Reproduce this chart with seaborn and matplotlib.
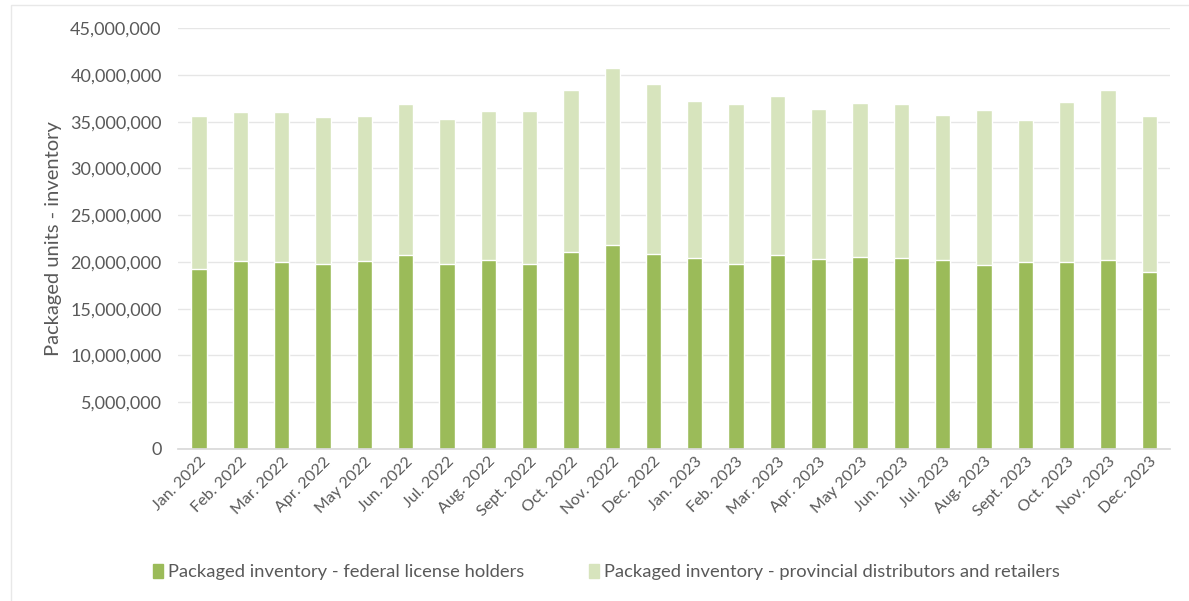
import pandas as pd
import matplotlib.pyplot as plt
import matplotlib.patches as mpatches
import seaborn as sns
from matplotlib.ticker import FuncFormatter

months = ['Jan. 2022', 'Feb. 2022', 'Mar. 2022', 'Apr. 2022', 'May 2022', 'Jun. 2022',
          'Jul. 2022', 'Aug. 2022', 'Sept. 2022', 'Oct. 2022', 'Nov. 2022', 'Dec. 2022',
          'Jan. 2023', 'Feb. 2023', 'Mar. 2023', 'Apr. 2023', 'May 2023', 'Jun. 2023',
          'Jul. 2023', 'Aug. 2023', 'Sept. 2023', 'Oct. 2023', 'Nov. 2023', 'Dec. 2023']

# millions of packaged units
federal = [19.3, 20.1, 20.0, 19.8, 20.1, 20.7, 19.8, 20.2, 19.8, 21.1, 21.8, 20.8,
           20.4, 19.8, 20.7, 20.3, 20.5, 20.4, 20.2, 19.7, 20.0, 20.0, 20.2, 18.9]
provincial = [16.3, 15.9, 16.0, 15.7, 15.5, 16.2, 15.5, 16.0, 16.4, 17.3, 19.0, 18.2,
              16.8, 17.1, 17.1, 16.1, 16.5, 16.5, 15.5, 16.6, 15.2, 17.1, 18.2, 16.7]

label_fed = 'Packaged inventory - federal license holders'
label_prov = 'Packaged inventory - provincial distributors and retailers'

dark = '#9BBB59'
light = '#D7E4BD'
text_col = '#595959'

df = pd.DataFrame({
    'month': months,
    'federal': [v * 1e6 for v in federal],
    'total': [(f + p) * 1e6 for f, p in zip(federal, provincial)],
})

sns.set_theme(style='white')
plt.rcParams['font.family'] = ['Lato', 'DejaVu Sans']

fig = plt.figure(figsize=(11.89, 6.01), dpi=100)
ax = fig.add_axes([0.150, 0.253, 0.834, 0.700])

sns.barplot(data=df, x='month', y='total', color=light, saturation=1, width=0.37, ax=ax)
sns.barplot(data=df, x='month', y='federal', color=dark, saturation=1, width=0.37, ax=ax)

ax.set_ylim(0, 45e6)
ax.set_xlim(-0.5, len(months) - 0.5)
ax.set_yticks(range(0, 45000001, 5000000))
ax.yaxis.set_major_formatter(FuncFormatter(lambda v, p: f'{int(v):,}'))
ax.grid(axis='y', color='#E6E6E6', linewidth=1)
ax.set_axisbelow(True)
for s in ['top', 'right', 'left']:
    ax.spines[s].set_visible(False)
ax.spines['bottom'].set_color('#D9D9D9')

ax.set_xlabel('')
ax.set_ylabel('Packaged units - inventory', fontsize=14.5, color=text_col, labelpad=6)
ax.tick_params(axis='y', labelsize=13, colors=text_col, length=0, pad=12)
ax.tick_params(axis='x', labelsize=11.5, colors=text_col, length=0, pad=4)
plt.setp(ax.get_xticklabels(), rotation=45, ha='right', rotation_mode='anchor')

handles = [mpatches.Patch(color=dark, label=label_fed),
           mpatches.Patch(color=light, label=label_prov)]
fig.legend(handles=handles, loc='center', bbox_to_anchor=(0.51, 0.048), ncol=2,
           frameon=False, fontsize=13.2, labelcolor=text_col, handlelength=0.55,
           handleheight=0.8, handletextpad=0.3, columnspacing=3.5)

# faint frame around the figure, as in the source screenshot
fig.patches.append(mpatches.Rectangle((0.009, -0.05), 1.2, 1.042, transform=fig.transFigure,
                                      fill=False, edgecolor='#E8E8E8', linewidth=1))

fig.savefig('out.png', dpi=100)
